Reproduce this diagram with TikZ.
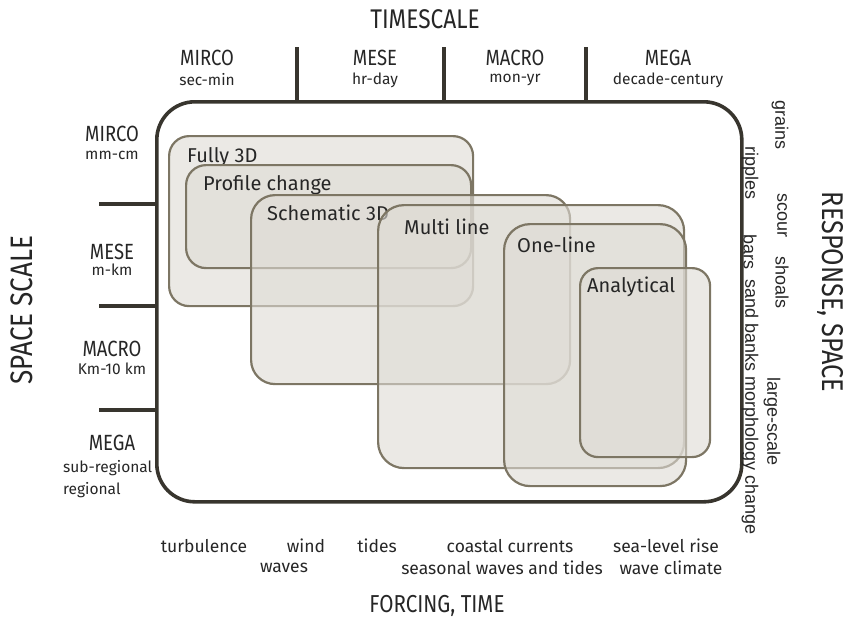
\documentclass[tikz,border=0pt]{standalone}
\usepackage{fontspec}
\setmainfont{Fira Sans}
\newfontfamily\condfont{Fira Sans}[FakeStretch=0.84]
\newfontfamily\respfont{Liberation Sans}
\definecolor{frameink}{HTML}{38352E}
\definecolor{boxedge}{HTML}{7D7664}
\definecolor{boxfill}{HTML}{DEDBD4}
\definecolor{ink}{HTML}{262626}
\begin{document}
\begin{tikzpicture}[x=1pt,y=-1pt,
  every node/.style={text=ink, inner sep=0pt},
  axistitle/.style={font=\condfont\fontsize{27}{27}\selectfont},
  scalehead/.style={font=\condfont\fontsize{22}{22}\selectfont},
  scalesub/.style={font=\fontsize{15.5}{15.5}\selectfont},
  forcing/.style={font=\fontsize{17.5}{17.5}\selectfont},
  response/.style={font=\respfont\fontsize{18}{18}\selectfont, rotate=-90, anchor=west},
  framebox/.style={draw=frameink, line width=3.6pt, rounded corners=38pt, anchor=north west},
  tick/.style={draw=frameink, line width=3.6pt},
  modelbox/.style={draw=boxedge, line width=2.2pt, fill=boxfill, fill opacity=0.6,
    anchor=north west},
  modellabel/.style={font=\fontsize{20}{20}\selectfont, anchor=base west},
]
\useasboundingbox (0,0) rectangle (849,625);

% outer frame
\node[framebox, minimum width=585pt, minimum height=400pt] (frame) at (155,100) {};

% timescale ticks along the top edge
\coordinate (tt1) at (297,47);
\coordinate (tt2) at (444,47);
\coordinate (tt3) at (586,47);
\foreach \t in {tt1,tt2,tt3} \draw[tick] (\t) -- (\t |- frame.north);

% space-scale ticks along the left edge
\coordinate (st1) at (99,204);
\coordinate (st2) at (99,306);
\coordinate (st3) at (99,410);
\foreach \t in {st1,st2,st3} \draw[tick] (\t) -- (\t -| frame.west);

% axis titles
\node[axistitle] (timescale) at (425,19) {TIMESCALE};
\node[axistitle, font=\condfont\fontsize{24.5}{24.5}\selectfont] (forcingtime) at (437,606) {FORCING, TIME};
\node[axistitle, font=\condfont\fontsize{31}{31}\selectfont, rotate=90] (spacescale) at (22,310) {SPACE SCALE};
\node[axistitle, font=\condfont\fontsize{30}{30}\selectfont, rotate=-90] (respspace) at (831,292) {RESPONSE, SPACE};

% timescale classes
\node[scalehead] (tmirco) at (207,58) {MIRCO};
\node[scalesub]  (tmircos) at (207,80) {sec-min};
\node[scalehead] (tmese) at (375,58) {MESE};
\node[scalesub]  (tmeses) at (375,80) {hr-day};
\node[scalehead] (tmacro) at (515,58) {MACRO};
\node[scalesub]  (tmacros) at (515,80) {mon-yr};
\node[scalehead] (tmega) at (668,58) {MEGA};
\node[scalesub]  (tmegas) at (668,80) {decade-century};

% space-scale classes
\node[scalehead] (smirco) at (112,134) {MIRCO};
\node[scalesub]  (smircos) at (112,155) {mm-cm};
\node[scalehead] (smese) at (112,252) {MESE};
\node[scalesub]  (smeses) at (112,270) {m-km};
\node[scalehead] (smacro) at (112,349) {MACRO};
\node[scalesub]  (smacros) at (112,369) {Km-10 km};
\node[scalehead] (smega) at (112,443) {MEGA};
\node[scalesub, anchor=west] (smegas) at (63,468) {sub-regional};
\node[scalesub, anchor=west] (smegar) at (63,490) {regional};

% forcing
\node[forcing] (turb) at (204,546) {turbulence};
\node[forcing] (wind) at (306,546) {wind};
\node[forcing] (waves) at (284,568) {waves};
\node[forcing] (tides) at (377,546) {tides};
\node[forcing] (coastal) at (510,546) {coastal currents};
\node[forcing] (seasonal) at (502,568) {seasonal waves and tides};
\node[forcing] (slr) at (666,546) {sea-level rise};
\node[forcing] (waveclim) at (671,568) {wave climate};

% response
\node[response] (grains) at (780,100) {grains};
\node[response] (ripples) at (750,146) {ripples};
\node[response] (scour) at (782,193) {scour};
\node[response] (bars) at (750,234) {bars};
\node[response] (shoals) at (782,256) {shoals};
\node[response] (sandbanks) at (750,279) {sand banks morphology change};
\node[response] (largescale) at (772,377) {large-scale};

% model families
\node[modelbox, rounded corners=20pt, minimum width=304pt, minimum height=170pt] (fully) at (168,135) {};
\node[modellabel] (fullyl) at (187,162) {Fully 3D};
\node[modelbox, rounded corners=20pt, minimum width=285pt, minimum height=103pt] (profile) at (185,164) {};
\node[modellabel] (profilel) at (203,190) {Profile change};
\node[modelbox, rounded corners=24pt, minimum width=319pt, minimum height=189pt] (schem) at (250,194) {};
\node[modellabel] (scheml) at (267,220) {Schematic 3D};
\node[modelbox, rounded corners=26pt, minimum width=306pt, minimum height=263pt] (multi) at (377,204) {};
\node[modellabel] (multil) at (404,234) {Multi line};
\node[modelbox, rounded corners=26pt, minimum width=182pt, minimum height=262pt] (oneline) at (503,223) {};
\node[modellabel] (onelinel) at (517,252) {One-line};
\node[modelbox, rounded corners=18pt, minimum width=130pt, minimum height=189pt] (analyt) at (579,267) {};
\node[modellabel] (analytl) at (587,292) {Analytical};
\end{tikzpicture}
\end{document}
